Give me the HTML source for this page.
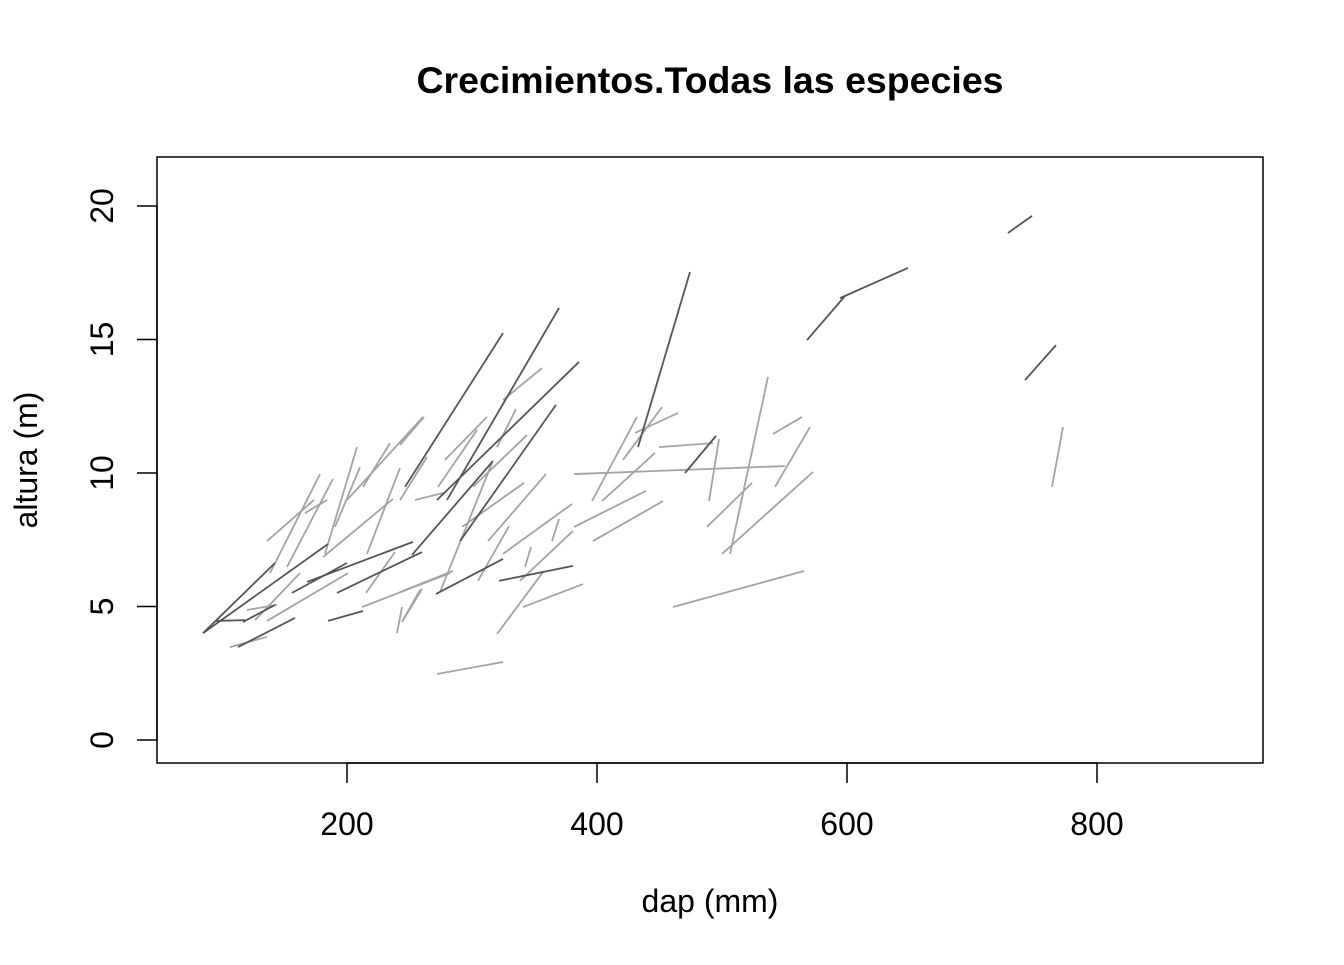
<!DOCTYPE html>
<html><head><meta charset="utf-8"><style>
html,body{margin:0;padding:0;background:#fff;}
svg text{font-family:"Liberation Sans",Arial,sans-serif;fill:#000;}
</style></head><body>
<svg id="chart" width="1344" height="960" viewBox="0 0 1344 960" xmlns="http://www.w3.org/2000/svg">
<rect width="1344" height="960" fill="#fff"/>
<text x="710" y="93" text-anchor="middle" font-size="37.5" font-weight="bold">Crecimientos.Todas las especies</text>
<rect x="157" y="157" width="1106" height="606" fill="none" stroke="#000" stroke-width="1.5"/>
<g id="xaxis"></g>
<g id="yaxis"></g>
<g id="segs"></g>
<text x="710" y="912" text-anchor="middle" font-size="32">dap (mm)</text>
<text transform="translate(37,460) rotate(-90)" text-anchor="middle" font-size="32">altura (m)</text>
</svg>
<script>
const xTicks=[200,400,600,800];
const yTicks=[0,5,10,15,20];
const dap0=[84.8,84.8,94.4,116.8,112.8,184.8,156,168,192,246.4,280,272,290.4,252,271.2,321.6,432.8,470.4,568,594.4,728.8,742.4,
136,138.4,152,166.4,182.4,190.4,212.8,200,216,180.8,215.2,212,136,126.4,240,244.8,106.4,120,242.4,242.4,254.4,278.4,272.8,300.8,320,324.8,292,312.8,304.8,274.4,324.8,364,342.4,338.4,320,340.8,242.4,244,272,381.6,396.8,381.6,396,404,420.8,430.4,449.6,489.6,488,506.4,500,542.4,540.8,460.8,764];
const dap1=[142.4,184.8,118.4,142.4,158.4,212.8,200,252.8,260,324.8,369.6,385.6,367.2,316.8,324.8,380.8,474.4,495.2,598.4,648.8,748,767.2,
173.6,178.4,188.8,184,208,210.4,234.4,260.8,242.4,236.8,238.4,282.4,200.8,162.4,244,258.4,136,144,261.6,264,276.8,312,304,344,335.2,356,341.6,359.2,329.6,316,380,369.6,347.2,380.8,356.8,388.8,284.8,260,324.8,439.2,452.8,550.4,432,446.4,452,464.8,492.8,497.6,524,536.8,572.8,570.4,564,565.6,772.8];
const alt0=[4.0,4.0,4.46,4.42,3.48,4.46,5.51,5.92,5.51,9.48,8.99,8.99,7.45,6.93,5.47,5.96,10.97,10.0,14.98,16.55,18.99,13.48,
7.45,6.25,6.48,8.5,6.97,7.98,9.48,8.99,6.97,6.85,5.51,4.98,4.46,4.49,4.0,4.49,3.48,4.87,11.05,8.99,8.99,10.49,9.48,9.48,10.97,12.73,7.98,7.45,5.96,5.54,6.97,7.45,6.48,5.96,3.97,4.98,5.54,4.42,2.47,7.98,7.45,9.96,8.95,8.95,10.49,11.5,10.97,8.95,7.98,6.97,6.97,9.48,11.46,4.98,9.48];
const alt1=[6.63,7.34,4.49,5.06,4.57,4.83,6.63,7.42,7.04,15.24,16.18,14.16,12.55,10.45,6.78,6.52,17.53,11.39,16.63,17.68,19.63,14.79,
8.99,9.96,9.78,8.99,10.97,10.22,11.12,12.1,10.19,9.03,7.04,6.25,6.25,6.25,4.98,5.62,3.86,5.06,12.1,10.6,9.25,12.1,11.61,11.42,12.4,13.93,9.63,9.96,8.01,10.37,8.84,8.28,7.23,7.83,6.29,5.84,6.33,5.66,2.92,9.33,8.95,10.26,12.1,10.75,12.47,12.25,11.12,11.27,9.63,13.6,10.04,11.72,12.1,6.33,11.72];
const darkCount=22;
const NS="http://www.w3.org/2000/svg";
const sx=v=>97+v*1.25;
const sy=v=>740-v*26.7;
function mk(t,a){const e=document.createElementNS(NS,t);for(const k in a)e.setAttribute(k,a[k]);return e;}
const xa=document.getElementById('xaxis');
xa.appendChild(mk('line',{x1:sx(xTicks[0]),x2:sx(xTicks[xTicks.length-1]),y1:763,y2:763,stroke:'#000','stroke-width':1.5}));
xTicks.forEach(t=>{
 const l=mk('line',{x1:sx(t),x2:sx(t),y1:763,y2:783,stroke:'#000','stroke-width':1.5});
 
 
 xa.appendChild(l);
 const tx=mk('text',{x:sx(t),y:835,'text-anchor':'middle','font-size':32});
 
 
 tx.textContent=t;xa.appendChild(tx);
});
const ya=document.getElementById('yaxis');
ya.appendChild(mk('line',{x1:157,x2:157,y1:sy(yTicks[0]),y2:sy(yTicks[yTicks.length-1]),stroke:'#000','stroke-width':1.5}));
yTicks.forEach(t=>{
 const l=mk('line',{x1:137,x2:157,y1:sy(t),y2:sy(t),stroke:'#000','stroke-width':1.5});
 
 
 ya.appendChild(l);
 const tx=mk('text',{transform:`translate(113,${sy(t)}) rotate(-90)`,'text-anchor':'middle','font-size':32});
 
 
 tx.textContent=t;ya.appendChild(tx);
});
const sg=document.getElementById('segs');
for(let i=dap0.length-1;i>=0;i--){
 const dark=i<darkCount;
 const l=mk('line',{x1:sx(dap0[i]),y1:sy(alt0[i]),x2:sx(dap1[i]),y2:sy(alt1[i]),stroke:dark?'#555':'#a3a3a3','stroke-width':1.8});
 
 
 sg.appendChild(l);
}
</script>
</body></html>
